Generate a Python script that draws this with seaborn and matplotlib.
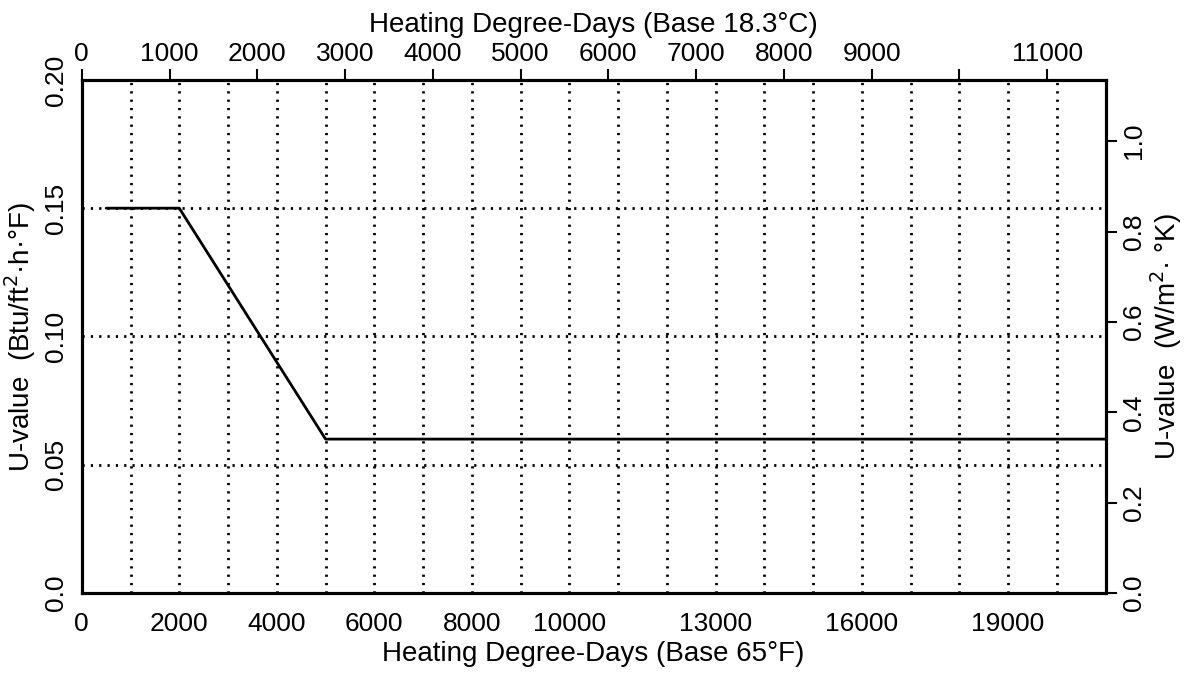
import numpy as np
import pandas as pd
import matplotlib
matplotlib.use("Agg")
import matplotlib.pyplot as plt
import seaborn as sns

# data
hdd_f = [500, 2000, 5000, 21000]          # heating degree-days, base 65 F
u_btu = [0.150, 0.150, 0.060, 0.060]      # U-value, Btu/ft2.h.F

bottom_ticks = [0, 2000, 4000, 6000, 8000, 10000, 13000, 16000, 19000]
top_ticks = list(range(0, 12000, 1000))
top_labels = [str(t) if t != 10000 else "" for t in top_ticks]
left_ticks = [0.0, 0.05, 0.10, 0.15, 0.20]
left_labels = ["0.0", "0.05", "0.10", "0.15", "0.20"]
right_ticks = [0.0, 0.2, 0.4, 0.6, 0.8, 1.0]

F_TO_C = 1 / 1.8
BTU_TO_SI = 5.678
XMAX = 21000
YMAX = 0.20

sns.set_style("white", {"text.color": "black", "axes.labelcolor": "black",
                        "xtick.color": "black", "ytick.color": "black"})
plt.rcParams['font.family'] = ['Liberation Sans', 'DejaVu Sans']
plt.rcParams['font.size'] = 19

TICK_FS = 19
LABEL_FS = 20

df = pd.DataFrame({"hdd": hdd_f, "u": u_btu})

fig = plt.figure(figsize=(11.85, 6.77), dpi=100)
ax = fig.add_axes([0.069, 0.124, 0.864, 0.758])

# dotted grid
for x in range(1000, XMAX, 1000):
    ax.axvline(x, color="black", lw=2, ls=(0, (0.8, 2.2)), zorder=1)
for y in [0.05, 0.10, 0.15]:
    ax.axhline(y, color="black", lw=2, ls=(0, (0.8, 2.2)), zorder=1)

sns.lineplot(data=df, x="hdd", y="u", color="black", lw=2, ax=ax, zorder=3)

ax.set_xlim(0, XMAX)
ax.set_ylim(0, YMAX)
ax.set_xticks(bottom_ticks)
ax.set_xticklabels([str(t) for t in bottom_ticks])
ax.set_yticks(left_ticks)
ax.set_yticklabels(left_labels, rotation=90, va="center")
ax.tick_params(axis="both", length=0, labelsize=TICK_FS)
ax.tick_params(axis="x", pad=14)
ax.tick_params(axis="y", pad=10)
ax.set_xlabel("Heating Degree-Days (Base 65°F)", fontsize=LABEL_FS, labelpad=3)
ax.set_ylabel("U-value  (Btu/ft$^2$·h·°F)", fontsize=LABEL_FS, labelpad=4)

# top axis in Celsius degree-days
ax_top = ax.twiny()
ax_top.set_xlim(0, XMAX * F_TO_C)
ax_top.set_xticks(top_ticks)
ax_top.set_xticklabels(top_labels)
ax_top.tick_params(axis="x", direction="out", length=8, width=1.5, pad=2, labelsize=TICK_FS)
ax_top.set_xlabel("Heating Degree-Days (Base 18.3°C)", fontsize=LABEL_FS, labelpad=7)

# right axis in SI units
ax_r = ax.twinx()
ax_r.set_ylim(0, YMAX * BTU_TO_SI)
ax_r.set_yticks(right_ticks)
ax_r.set_yticklabels([f"{t:.1f}" for t in right_ticks], rotation=90, va="center")
ax_r.tick_params(axis="y", direction="out", length=8, width=1.5, pad=4, labelsize=TICK_FS)
ax_r.set_ylabel("U-value  (W/m$^2$· °K)", fontsize=LABEL_FS, labelpad=1)

for a in (ax, ax_top, ax_r):
    for s in a.spines.values():
        s.set_linewidth(2.2)
        s.set_color("black")

fig.savefig("out.png", dpi=100)
